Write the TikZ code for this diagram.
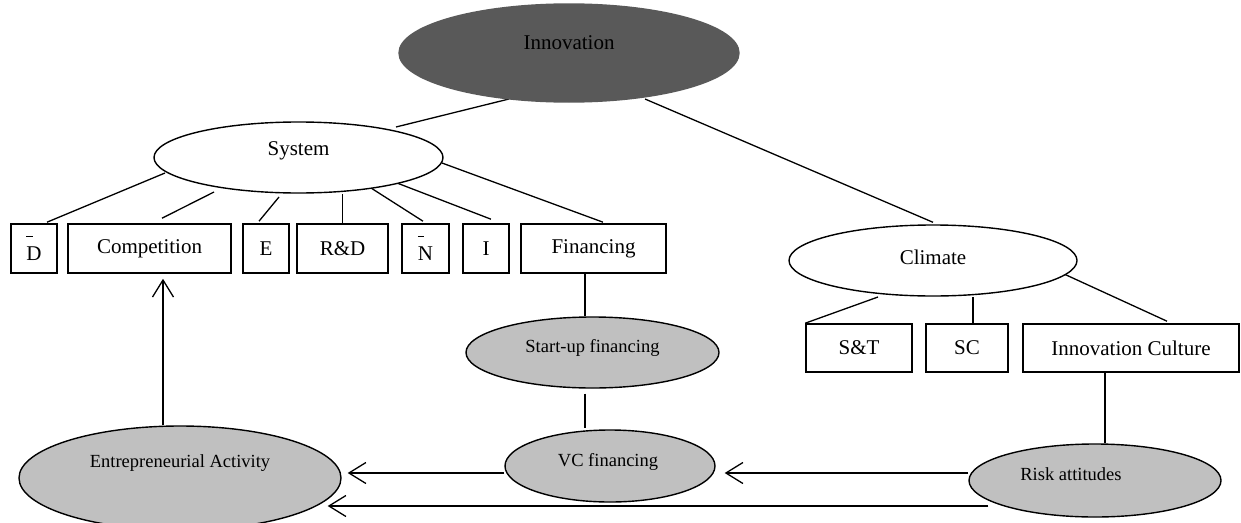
\documentclass[tikz,border=0pt]{standalone}
\usepackage{fontspec}
\setmainfont{Liberation Serif}
\usetikzlibrary{shapes.geometric,arrows.meta,backgrounds}
\definecolor{innog}{HTML}{595959}
\definecolor{lgray}{HTML}{C0C0C0}
\newcommand{\barD}{\rlap{\raisebox{1.12em}{\rule{0.3em}{0.6pt}}}D}
\newcommand{\barN}{\rlap{\raisebox{1.12em}{\rule{0.3em}{0.6pt}}}N}
\begin{document}
\begin{tikzpicture}[x=1pt,y=-1pt,
  every node/.style={font=\fontsize{21}{25}\selectfont},
  ell/.style={ellipse, draw, line width=1.4pt, inner sep=0pt, fill=white},
  gell/.style={ell, fill=lgray},
  lab/.style={inner sep=0pt, font=\fontsize{21}{25}\selectfont},
  slab/.style={inner sep=0pt, font=\fontsize{18.5}{22}\selectfont},
  box/.style={draw, line width=1.6pt, inner sep=0pt, fill=white},
  ln/.style={line width=1.3pt},
  arr/.style={ln, -{Straight Barb[length=17pt,width=21pt]}}
]
\useasboundingbox (0,0) rectangle (1241,522);

% ellipses
\node[ell, draw=innog, fill=innog, minimum width=340pt, minimum height=98pt,
      label={[lab,yshift=10pt]center:Innovation}] (inn) at (569,53) {};
\node[ell, minimum width=289pt, minimum height=71pt,
      label={[lab,yshift=6.5pt]center:System}] (sys) at (298.5,157.5) {};
\node[ell, minimum width=288pt, minimum height=71pt,
      label={[lab,yshift=3.5pt]center:Climate}] (clim) at (933,260.5) {};
\node[gell, minimum width=253pt, minimum height=71pt,
      label={[slab,yshift=4.5pt]center:Start-up financing}] (su) at (592.5,352.5) {};
\node[gell, minimum width=210pt, minimum height=72pt,
      label={[slab,xshift=-2pt,yshift=4pt]center:VC financing}] (vc) at (610,466) {};
\node[gell, minimum width=252pt, minimum height=73pt,
      label={[slab,xshift=-24pt,yshift=6.5pt]center:Risk attitudes}] (risk) at (1095,480.5) {};
\node[gell, minimum width=322pt, minimum height=104pt,
      label={[slab,yshift=15pt]center:Entrepreneurial Activity}] (ent) at (180,478) {};

% system boxes
\node[box, minimum width=46pt, minimum height=49pt] (bd) at (34,248.5) {\barD};
\node[box, minimum width=163pt, minimum height=49pt] (comp) at (149.5,248.5) {Competition};
\node[box, minimum width=46pt, minimum height=49pt] (be) at (266,248.5) {E};
\node[box, minimum width=91pt, minimum height=49pt] (rd) at (342.5,248.5) {R\&D};
\node[box, minimum width=47pt, minimum height=49pt] (bn) at (425.5,248.5) {\barN};
\node[box, minimum width=46pt, minimum height=49pt] (bi) at (486,248.5) {I};
\node[box, minimum width=145pt, minimum height=49pt] (fin) at (593.5,248.5) {Financing};

% climate boxes
\node[box, minimum width=106pt, minimum height=48pt] (st) at (859,348) {S\&T};
\node[box, minimum width=82pt, minimum height=48pt] (sc) at (967,348) {SC};
\node[box, minimum width=216pt, minimum height=48pt] (ic) at (1131,348) {Innovation Culture};

\begin{scope}[on background layer]
% innovation to system / climate
\draw[ln] ([shift={(-60,46)}]inn.center) -- ([shift={(97.5,-30.5)}]sys.center);
\draw[ln] ([shift={(76,46)}]inn.center) -- ([yshift=2pt]clim.north);

% system to boxes
\draw[ln] ([shift={(-133.5,15.5)}]sys.center) -- ([xshift=13pt,yshift=1pt]bd.north);
\draw[ln] ([shift={(-84.5,34.5)}]sys.center) -- ([xshift=12.5pt,yshift=5pt]comp.north);
\draw[ln] ([shift={(-19.5,39.5)}]sys.center) -- ([xshift=-7pt,yshift=2pt]be.north);
\draw[ln] (rd.north) -- (rd.north |- sys.south);
\draw[ln] ([shift={(72.5,30.5)}]sys.center) -- ([xshift=-2.5pt,yshift=2pt]bn.north);
\draw[ln] ([shift={(98.5,25.5)}]sys.center) -- ([xshift=5pt,yshift=4pt]bi.north);
\draw[ln] ([shift={(143.5,5.5)}]sys.center) -- ([xshift=9.5pt,yshift=1pt]fin.north);

% climate to boxes
\draw[ln] ([shift={(-55,36.5)}]clim.center) -- (st.north west);
\draw[ln] ([xshift=6pt]sc.north) -- ([xshift=6pt]sc.north |- clim.south);
\draw[ln] ([shift={(131,13.5)}]clim.center) -- ([xshift=36pt,yshift=2pt]ic.north);

% vertical links
\draw[ln] ([xshift=-8.5pt]fin.south) -- ([xshift=-8.5pt]fin.south |- su.north);
\draw[ln] ([xshift=-7.5pt,yshift=-5pt]su.south) -- ([xshift=-25pt,yshift=1pt]vc.north);
\draw[ln] ([xshift=-26pt]ic.south) -- ([xshift=-26pt]ic.south |- risk.north);

% arrows
\draw[arr] ([xshift=-17pt]ent.north) -- ([xshift=13.5pt,yshift=-5pt]comp.south);
\draw[arr] ([yshift=-7pt]vc.west) -- ([xshift=6pt,yshift=5pt]ent.east);
\draw[arr] ([yshift=7.5pt]risk.west) -- ([xshift=9pt,yshift=-7pt]vc.east);
\coordinate (low) at ([xshift=20pt,yshift=-25.5pt]risk.west);
\draw[arr] (low) -- ([xshift=-14pt]ent.east |- low);
\end{scope}
\end{tikzpicture}
\end{document}
